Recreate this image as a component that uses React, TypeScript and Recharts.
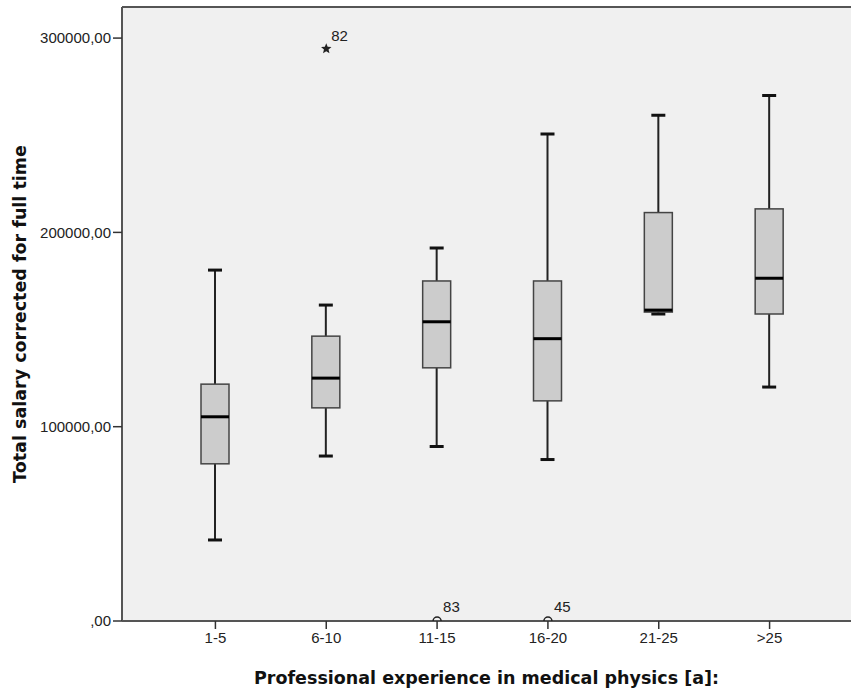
import React from 'react';
import { ComposedChart, Bar, Scatter, XAxis, YAxis, CartesianGrid, ReferenceLine } from 'recharts';

// Box plot: salary by years of experience
const categories = ['1-5', '6-10', '11-15', '16-20', '21-25', '>25'];
const whiskerLow = [41700, 84900, 89800, 83100, 158000, 120400];
const quartile1 = [80900, 109700, 130300, 113300, 159000, 158000];
const medians = [105100, 125000, 154000, 145300, 160000, 176400];
const quartile3 = [121900, 146600, 175000, 175000, 210200, 212100];
const whiskerHigh = [180600, 162600, 192000, 250700, 260300, 270400];

// extreme values (star) and outliers (circle) with case numbers
const extremeValues = [null, 294500, null, null, null, null];
const extremeLabels = [null, '82', null, null, null, null];
const outlierValues = [null, null, 0, 0, null, null];
const outlierLabels = [null, null, '83', '45', null, null];

const yTicks = [0, 100000, 200000, 300000];
const yMax = 316000;

const data = categories.map((cat, i) => ({
    cat,
    low: whiskerLow[i],
    q1: quartile1[i],
    median: medians[i],
    q3: quartile3[i],
    high: whiskerHigh[i],
    extreme: extremeValues[i],
    extremeLabel: extremeLabels[i],
    outlier: outlierValues[i],
    outlierLabel: outlierLabels[i],
}));

const FONT = '"Liberation Sans", Arial, sans-serif';
const TITLE_FONT = '"DejaVu Sans", Verdana, sans-serif';

const BoxShape = (props: any) => {
    const { x, y, width, height, payload } = props;
    if (payload == null || !isFinite(y) || !isFinite(height)) return <g />;
    const top = Math.min(y, y + height);
    const h = Math.abs(height);
    const bottom = top + h;
    const span = payload.high - payload.low;
    const toY = (v: number) => bottom - ((v - payload.low) / span) * h;
    const cx = x + width / 2;
    const capHalf = 7;
    const yQ1 = toY(payload.q1);
    const yQ3 = toY(payload.q3);
    const yMed = toY(payload.median);
    return (
        <g>
            <line x1={cx} x2={cx} y1={top} y2={yQ3} stroke="#222" strokeWidth={2} />
            <line x1={cx} x2={cx} y1={yQ1} y2={bottom} stroke="#222" strokeWidth={2} />
            <line x1={cx - capHalf} x2={cx + capHalf} y1={top} y2={top} stroke="#111" strokeWidth={3} />
            <line x1={cx - capHalf} x2={cx + capHalf} y1={bottom} y2={bottom} stroke="#111" strokeWidth={3} />
            <rect x={x} y={yQ3} width={width} height={yQ1 - yQ3} fill="#cccccc" stroke="#444" strokeWidth={1.5} />
            <line x1={x} x2={x + width} y1={yMed} y2={yMed} stroke="#000" strokeWidth={3} />
        </g>
    );
};

const StarShape = (props: any) => {
    const { cx, cy, payload } = props;
    if (payload?.extreme == null || !isFinite(cy)) return <g />;
    const pts: string[] = [];
    for (let k = 0; k < 10; k++) {
        const r = k % 2 === 0 ? 5.5 : 2.4;
        const a = -Math.PI / 2 + (k * Math.PI) / 5;
        pts.push(`${cx + r * Math.cos(a)},${cy + r * Math.sin(a)}`);
    }
    return (
        <g>
            <polygon points={pts.join(' ')} fill="#222" />
            <text x={cx + 5} y={cy - 8} fontSize={15} fontFamily={FONT} fill="#222">{payload.extremeLabel}</text>
        </g>
    );
};

const CircleShape = (props: any) => {
    const { cx, cy, payload } = props;
    if (payload?.outlier == null || !isFinite(cy)) return <g />;
    return (
        <g>
            <circle cx={cx} cy={cy} r={4} fill="none" stroke="#222" strokeWidth={1.5} />
            <text x={cx + 6} y={cy - 9} fontSize={15} fontFamily={FONT} fill="#222">{payload.outlierLabel}</text>
        </g>
    );
};

const App: React.FC = () => {
    return (
        <div style={{ position: 'absolute', left: 0, top: 0, width: 851, height: 691, background: '#fff' }}>
            <ComposedChart width={851} height={691} data={data} margin={{ top: 7, right: 0, left: 0, bottom: 0 }}>
                <CartesianGrid fill="#f0f0f0" horizontal={false} vertical={false} />
                <XAxis
                    dataKey="cat"
                    height={70}
                    padding={{ left: 38, right: 26 }}
                    axisLine={{ stroke: '#555', strokeWidth: 2 }}
                    tickLine={{ stroke: '#333', strokeWidth: 1.5 }}
                    tickSize={8}
                    tickMargin={3}
                    tick={{ fill: '#222', fontSize: 15, fontFamily: FONT }}
                    label={{
                        value: 'Professional experience in medical physics [a]:',
                        position: 'insideBottom',
                        offset: 7,
                        style: { fill: '#111', fontSize: 17.5, fontWeight: 'bold', fontFamily: TITLE_FONT },
                    }}
                />
                <YAxis
                    width={122}
                    domain={[0, yMax]}
                    ticks={yTicks}
                    allowDataOverflow
                    axisLine={{ stroke: '#555', strokeWidth: 2 }}
                    tickLine={{ stroke: '#333', strokeWidth: 1.5 }}
                    tickSize={9}
                    tickMargin={2}
                    tick={{ fill: '#222', fontSize: 15, fontFamily: FONT }}
                    tickFormatter={(v: number) => (v === 0 ? ',00' : `${v},00`)}
                    label={{
                        value: 'Total salary corrected for full time',
                        angle: -90,
                        position: 'insideLeft',
                        offset: 20,
                        style: { fill: '#111', fontSize: 17.5, fontWeight: 'bold', fontFamily: TITLE_FONT, textAnchor: 'middle' },
                    }}
                />
                <ReferenceLine y={yMax} stroke="#555" strokeWidth={2} />
                <Bar
                    dataKey={(d: any) => [d.low, d.high]}
                    barSize={28}
                    shape={<BoxShape />}
                    isAnimationActive={false}
                />
                <Scatter dataKey="extreme" shape={<StarShape />} isAnimationActive={false} />
                <Scatter dataKey="outlier" shape={<CircleShape />} isAnimationActive={false} />
            </ComposedChart>
        </div>
    );
};

export default App;
